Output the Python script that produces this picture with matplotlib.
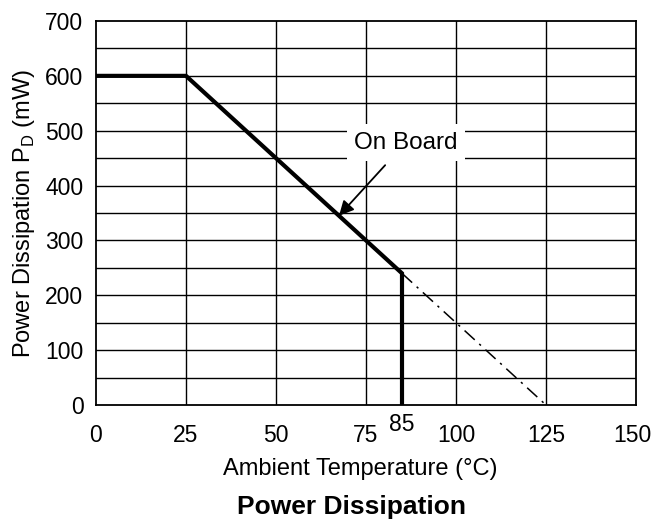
import matplotlib.pyplot as plt
import matplotlib.transforms as mtransforms
import numpy as np

plt.rcParams['font.family'] = ['Liberation Sans', 'DejaVu Sans']

# derating curve (mW vs degC)
temp_on = [0, 25, 85, 85]
power_on = [600, 600, 240, 0]
temp_ext = [85, 125]
power_ext = [240, 0]

x_ticks = [0, 25, 50, 75, 100, 125, 150]
y_ticks = [0, 100, 200, 300, 400, 500, 600, 700]

fig = plt.figure(figsize=(6.54, 5.2), dpi=100)
ax = fig.add_axes([96 / 654, 1 - 405 / 520, 540 / 654, 384 / 520])

# grid: every 25 degC, every 50 mW
for xv in np.arange(25, 150, 25):
    ax.axvline(xv, color='black', linewidth=1.0, zorder=1)
for yv in np.arange(50, 700, 50):
    ax.axhline(yv, color='black', linewidth=1.0, zorder=1)

ax.plot(temp_on, power_on, color='black', linewidth=3, solid_joinstyle='miter', zorder=3)
ax.plot(temp_ext, power_ext, color='black', linewidth=1.1, dashes=[9, 4, 1.5, 4], zorder=3)

ax.set_xlim(0, 150)
ax.set_ylim(0, 700)
ax.set_xticks(x_ticks)
ax.set_yticks(y_ticks)
ax.tick_params(length=0, labelsize=16.5)
ax.tick_params(axis='x', pad=14)
ax.tick_params(axis='y', pad=9)
for s in ax.spines.values():
    s.set_linewidth(1.3)

# nudge the last x label so it stays inside the figure
last = ax.get_xticklabels()[-1]
last.set_transform(last.get_transform() +
                   mtransforms.ScaledTranslation(-4 / 100, 0, fig.dpi_scale_trans))

ax.text(85, -14, "85", ha='center', va='top', fontsize=16.5)

ax.annotate("On Board", xy=(67.5, 345), xytext=(86, 478),
            ha='center', va='center', fontsize=17.5,
            bbox=dict(boxstyle='square,pad=0.3', fc='white', ec='none'),
            arrowprops=dict(arrowstyle='-|>', color='black', lw=1.3,
                            mutation_scale=22, shrinkA=4, shrinkB=0),
            zorder=4)

ax.set_xlabel("Ambient Temperature (°C)", fontsize=17)
ax.xaxis.set_label_coords((360 - 96) / 540, -0.166)
ax.xaxis.label.set_va('center')
ax.set_ylabel("Power Dissipation P$_\\mathregular{D}$ (mW)", fontsize=17, labelpad=6)
fig.text(352 / 654, 1 - 507 / 520, "Power Dissipation",
         ha='center', va='center', fontsize=19, fontweight='bold')

fig.savefig("out.png", dpi=100)
